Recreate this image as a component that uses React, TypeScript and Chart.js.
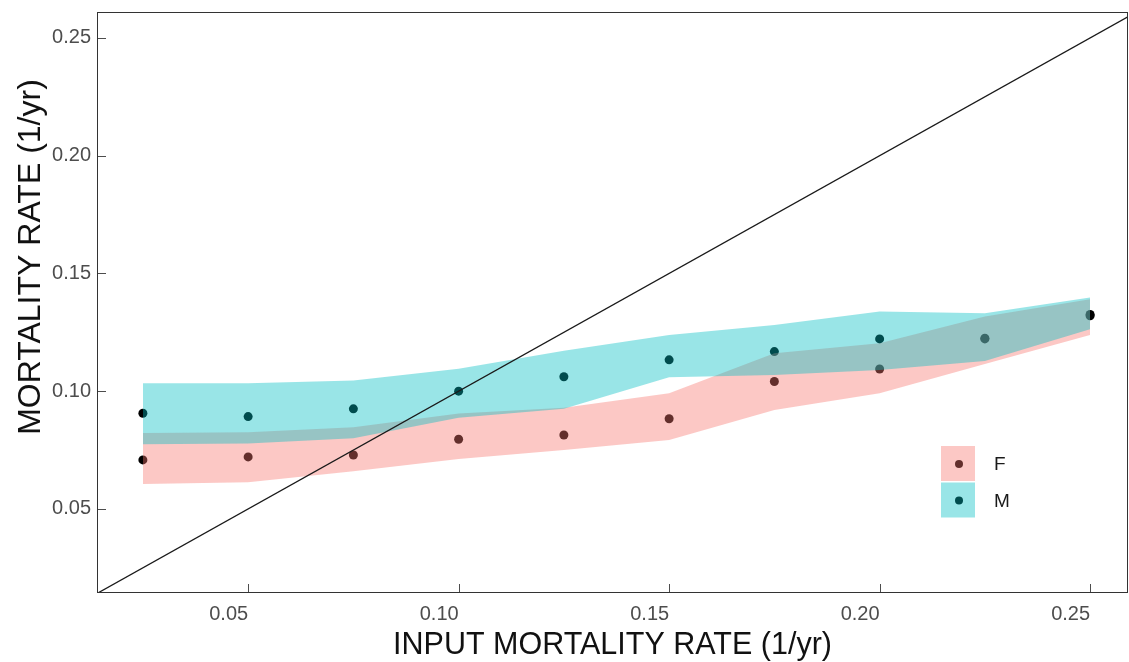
import React, { useEffect, useRef } from 'react';
import { Chart, registerables } from 'chart.js';

Chart.register(...registerables);

// ---- data ----
const inputRates = [0.025, 0.05, 0.075, 0.1, 0.125, 0.15, 0.175, 0.2, 0.225, 0.25];
const femaleEstimate = [0.0708, 0.0721, 0.0729, 0.0796, 0.0814, 0.0883, 0.1041, 0.1094, 0.1222, 0.132];
const maleEstimate = [0.0906, 0.0892, 0.0925, 0.1, 0.1061, 0.1133, 0.1168, 0.1222, 0.1225, 0.1326];
const femaleLower = [0.0606, 0.0613, 0.066, 0.0712, 0.075, 0.0793, 0.092, 0.0991, 0.1115, 0.1239];
const femaleUpper = [0.0822, 0.0826, 0.0847, 0.0905, 0.093, 0.0991, 0.1161, 0.1204, 0.1317, 0.139];
const maleLower = [0.0775, 0.0778, 0.08, 0.0887, 0.0925, 0.1059, 0.1069, 0.109, 0.1128, 0.1263];
const maleUpper = [0.1034, 0.1034, 0.1045, 0.1095, 0.1172, 0.1239, 0.1281, 0.1338, 0.1331, 0.1398];
const identityX = [0, 0.3];
const xTickValues = [0.05, 0.1, 0.15, 0.2, 0.25];
const yTickValues = [0.05, 0.1, 0.15, 0.2, 0.25];
const seriesLabels = ['F', 'M'];
const xTitle = 'INPUT MORTALITY RATE (1/yr)';
const yTitle = 'MORTALITY RATE (1/yr)';

const FONT = '"Liberation Sans", Arial, sans-serif';
const femaleFill = 'rgba(248,118,109,0.4)';
const maleFill = 'rgba(0,191,196,0.4)';

const pts = (xs: number[], ys: number[]) => xs.map((x, i) => ({ x, y: ys[i] }));

const framePlugin = {
  id: 'frameAndLegend',
  afterDraw(chart: any) {
    const { ctx, chartArea: a, scales } = chart;
    ctx.save();
    // inward tick marks
    ctx.strokeStyle = '#4d4d4d';
    ctx.lineWidth = 1;
    ctx.beginPath();
    scales.x.ticks.forEach((t: any) => {
      const px = Math.round(scales.x.getPixelForValue(t.value)) + 0.5;
      ctx.moveTo(px, a.bottom);
      ctx.lineTo(px, a.bottom - 9);
    });
    scales.y.ticks.forEach((t: any) => {
      const py = Math.round(scales.y.getPixelForValue(t.value)) + 0.5;
      ctx.moveTo(a.left, py);
      ctx.lineTo(a.left + 9, py);
    });
    ctx.stroke();
    // panel frame
    ctx.strokeStyle = '#333333';
    ctx.strokeRect(a.left + 0.5, a.top + 0.5, a.right - a.left - 1, a.bottom - a.top - 1);

    // legend inside panel
    const fills = [femaleFill, maleFill];
    seriesLabels.forEach((label, i) => {
      const x0 = a.right - 187;
      const y0 = a.top + 434 + i * 36.5;
      ctx.fillStyle = '#000';
      ctx.beginPath();
      ctx.arc(x0 + 18, y0 + 18, 4, 0, Math.PI * 2);
      ctx.fill();
      ctx.fillStyle = fills[i];
      ctx.fillRect(x0, y0, 34, 35);
      ctx.fillStyle = '#1a1a1a';
      ctx.font = `19px ${FONT}`;
      ctx.textAlign = 'left';
      ctx.textBaseline = 'middle';
      ctx.fillText(label, x0 + 53, y0 + 19);
    });

    // y-axis title
    ctx.translate(31, 257);
    ctx.rotate(-Math.PI / 2);
    ctx.font = `32px ${FONT}`;
    ctx.fillStyle = '#111';
    ctx.textAlign = 'center';
    ctx.textBaseline = 'middle';
    ctx.fillText(yTitle, 0, 0);
    ctx.restore();
  },
};

export default function App() {
  const ref = useRef<HTMLCanvasElement | null>(null);

  useEffect(() => {
    document.body.style.margin = '0';
    const canvas = ref.current;
    if (!canvas) return;
    const chart = new Chart(canvas, {
      type: 'line',
      data: {
        datasets: [
          {
            label: 'F points',
            data: pts(inputRates, femaleEstimate),
            showLine: false,
            pointRadius: 4.5,
            pointBackgroundColor: '#000',
            pointBorderWidth: 0,
            order: 5,
          },
          {
            label: 'M points',
            data: pts(inputRates, maleEstimate),
            showLine: false,
            pointRadius: 4.5,
            pointBackgroundColor: '#000',
            pointBorderWidth: 0,
            order: 5,
          },
          {
            label: 'F lower',
            data: pts(inputRates, femaleLower),
            borderWidth: 0,
            borderColor: 'rgba(0,0,0,0)',
            pointRadius: 0,
            fill: false,
            tension: 0,
            order: 4,
          },
          {
            label: 'F upper',
            data: pts(inputRates, femaleUpper),
            borderWidth: 0,
            borderColor: 'rgba(0,0,0,0)',
            backgroundColor: femaleFill,
            pointRadius: 0,
            fill: 2,
            tension: 0,
            order: 4,
          },
          {
            label: 'M lower',
            data: pts(inputRates, maleLower),
            borderWidth: 0,
            borderColor: 'rgba(0,0,0,0)',
            pointRadius: 0,
            fill: false,
            tension: 0,
            order: 3,
          },
          {
            label: 'M upper',
            data: pts(inputRates, maleUpper),
            borderWidth: 0,
            borderColor: 'rgba(0,0,0,0)',
            backgroundColor: maleFill,
            pointRadius: 0,
            fill: 4,
            tension: 0,
            order: 3,
          },
          {
            label: 'identity',
            data: pts(identityX, identityX),
            borderColor: '#1a1a1a',
            borderWidth: 1.3,
            pointRadius: 0,
            fill: false,
            tension: 0,
            clip: 0,
            order: 0,
          },
        ],
      },
      options: {
        animation: false,
        responsive: false,
        events: [],
        layout: { autoPadding: false, padding: { top: 12, right: 1, left: 0, bottom: 0 } },
        plugins: {
          legend: { display: false },
          tooltip: { enabled: false },
          filler: { propagate: false },
        },
        scales: {
          x: {
            type: 'linear',
            min: 0.0141,
            max: 0.259,
            grid: { display: false, drawTicks: false },
            border: { display: false },
            afterBuildTicks: (s: any) => {
              s.ticks = xTickValues.map((value) => ({ value }));
            },
            afterFit: (s: any) => {
              s.height = 69;
              s.paddingLeft = 0;
              s.paddingRight = 0;
            },
            ticks: {
              align: 'end',
              color: '#4d4d4d',
              padding: 9,
              font: { family: FONT, size: 20 },
              callback: (v: any) => Number(v).toFixed(2),
            },
            title: {
              display: true,
              text: xTitle,
              color: '#111',
              font: { family: FONT, size: 30.5, lineHeight: 1.1 },
              padding: 0,
            },
          },
          y: {
            type: 'linear',
            min: 0.0143,
            max: 0.261,
            grid: { display: false, drawTicks: false },
            border: { display: false },
            afterBuildTicks: (s: any) => {
              s.ticks = yTickValues.map((value) => ({ value }));
            },
            afterFit: (s: any) => {
              s.width = 97;
              s.paddingTop = 0;
              s.paddingBottom = 0;
            },
            ticks: {
              color: '#4d4d4d',
              padding: 6,
              font: { family: FONT, size: 20 },
              callback: (v: any) => Number(v).toFixed(2),
            },
          },
        },
      } as any,
      plugins: [framePlugin],
    });
    return () => chart.destroy();
  }, []);

  return (
    <div style={{ width: 1129, height: 662, background: '#fff' }}>
      <canvas ref={ref} width={1129} height={662} style={{ display: 'block' }} />
    </div>
  );
}
